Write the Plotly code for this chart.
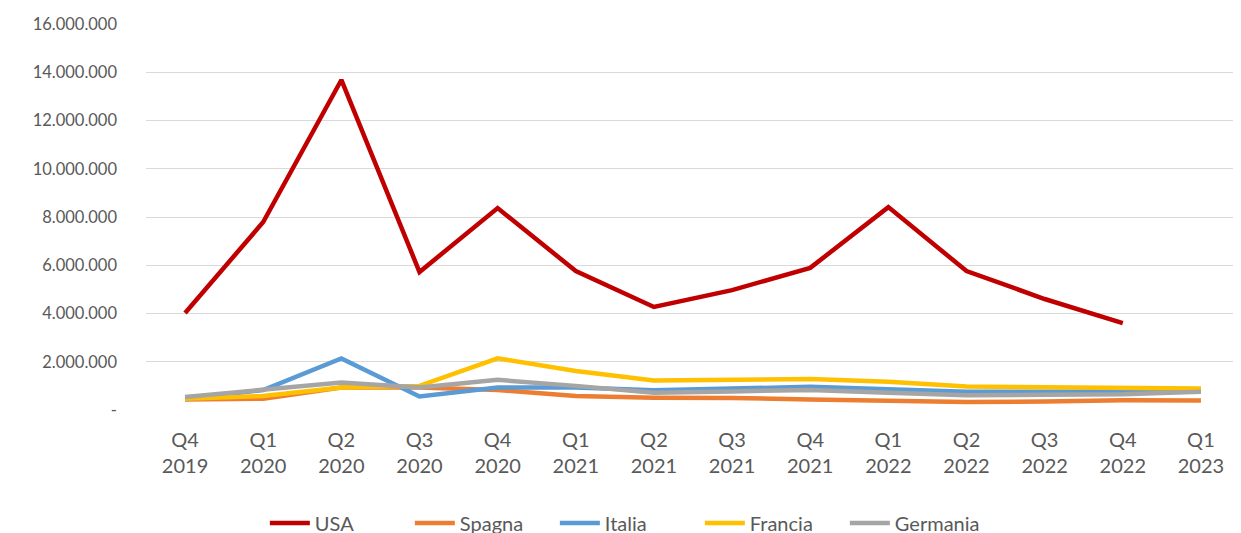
import plotly.graph_objects as go

quarters = ["Q4<br>2019", "Q1<br>2020", "Q2<br>2020", "Q3<br>2020", "Q4<br>2020",
            "Q1<br>2021", "Q2<br>2021", "Q3<br>2021", "Q4<br>2021",
            "Q1<br>2022", "Q2<br>2022", "Q3<br>2022", "Q4<br>2022", "Q1<br>2023"]

usa = [4020000, 7790000, 13680000, 5720000, 8370000, 5760000, 4270000,
       4970000, 5890000, 8410000, 5760000, 4600000, 3600000, None]
spagna = [440000, 470000, 930000, 930000, 830000, 580000, 510000,
          500000, 440000, 400000, 330000, 350000, 400000, 390000]
italia = [440000, 830000, 2140000, 560000, 930000, 930000, 820000,
          880000, 960000, 860000, 760000, 760000, 760000, 790000]
francia = [470000, 580000, 930000, 1000000, 2140000, 1620000, 1220000,
           1240000, 1280000, 1170000, 970000, 940000, 920000, 890000]
germania = [540000, 860000, 1140000, 930000, 1250000, 1000000, 720000,
            770000, 830000, 720000, 610000, 630000, 650000, 760000]

y_ticks = [0, 2000000, 4000000, 6000000, 8000000, 10000000, 12000000, 14000000, 16000000]
y_labels = ["-", "2.000.000", "4.000.000", "6.000.000", "8.000.000",
            "10.000.000", "12.000.000", "14.000.000", "16.000.000"]

series = [
    ("USA", usa, "#C00000"),
    ("Spagna", spagna, "#ED7D31"),
    ("Italia", italia, "#5B9BD5"),
    ("Francia", francia, "#FFC000"),
    ("Germania", germania, "#A5A5A5"),
]

fig = go.Figure()
for name, vals, color in series:
    fig.add_trace(go.Scatter(
        x=quarters, y=vals, mode="lines", name=name,
        line=dict(color=color, width=4.5),
    ))

# page body adds 8px offset, margins compensate
fig.update_layout(
    width=1241, height=533,
    margin=dict(l=138, r=9, t=16, b=131, autoexpand=False),
    plot_bgcolor="white", paper_bgcolor="white",
    font=dict(family="Lato, Open Sans, sans-serif", size=19, color="#595959"),
    legend=dict(orientation="h", x=0.44, xanchor="center", y=-0.242, yanchor="top",
                font=dict(size=20, color="#595959"), itemwidth=40,
                entrywidth=90, tracegroupgap=0),
    xaxis=dict(showgrid=False, showline=False, ticks="", tickfont=dict(size=20),
               range=[-0.5, 13.5], ticklabelstandoff=16),
    yaxis=dict(range=[0, 16000000], tickvals=y_ticks, ticktext=y_labels,
               showgrid=True, gridcolor="#D9D9D9", gridwidth=1,
               tickfont=dict(size=16.5),
               zeroline=False, showline=False, ticks="", ticklabelstandoff=28),
)

fig.write_html("out.html")
